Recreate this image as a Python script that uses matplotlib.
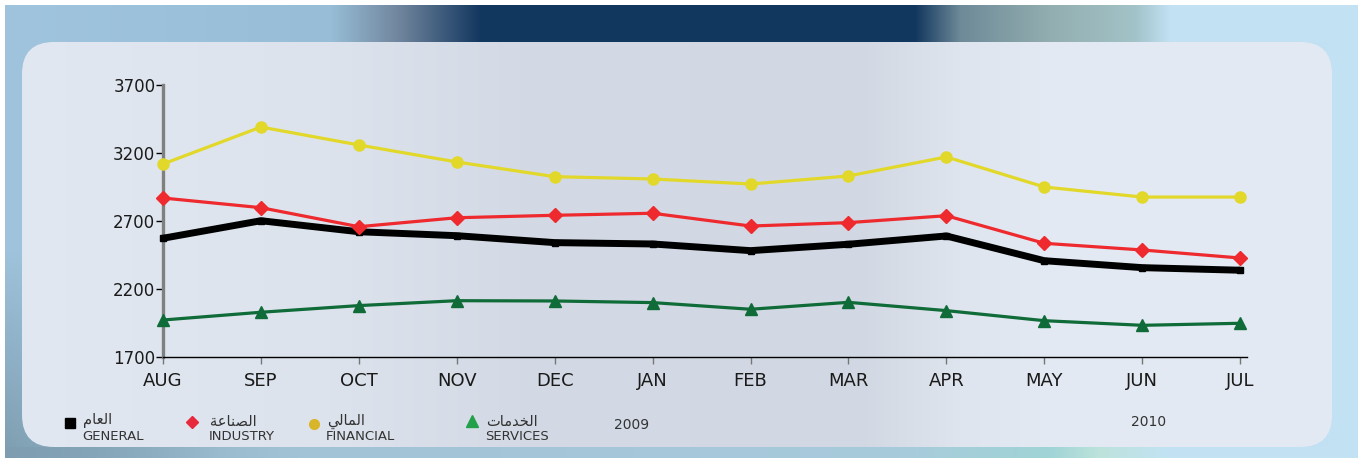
import matplotlib.pyplot as plt
import numpy as np
from matplotlib.colors import to_rgb
from matplotlib.patches import FancyBboxPatch

# monthly index values, Aug 2009 - Jul 2010
months = ["AUG", "SEP", "OCT", "NOV", "DEC", "JAN", "FEB", "MAR", "APR", "MAY", "JUN", "JUL"]
general = [2573, 2702, 2621, 2592, 2541, 2531, 2482, 2529, 2590, 2408, 2357, 2338]
industry = [2869, 2798, 2658, 2724, 2742, 2757, 2663, 2688, 2739, 2536, 2487, 2428]
financial = [3119, 3391, 3259, 3134, 3026, 3009, 2972, 3031, 3171, 2950, 2876, 2876]
services = [1972, 2029, 2078, 2114, 2112, 2100, 2051, 2102, 2041, 1967, 1933, 1948]
y_ticks = [1700, 2200, 2700, 3200, 3700]
years = ["2009", "2010"]

# Arabic labels, written in shaped presentation forms (visual order)
ar_general = "\ufee1\ufe8e\ufecc\ufedf\ufe8d"          # العام
ar_industry = "\ufe94\ufecb\ufe8e\ufee8\ufebc\ufedf\ufe8d"  # الصناعة
ar_financial = "\ufef2\ufedf\ufe8e\ufee4\ufedf\ufe8d"    # المالي
ar_services = "\ufe95\ufe8e\ufee3\ufeaa\ufea8\ufedf\ufe8d"  # الخدمات

W, H = 1366, 463


def hgrad(stops, width):
    """Horizontal colour gradient of shape (width, 3)."""
    xs = [s[0] for s in stops]
    cols = np.array([to_rgb(s[1]) for s in stops])
    x = np.arange(width)
    return np.stack([np.interp(x, xs, cols[:, i]) for i in range(3)], axis=-1)


fig = plt.figure(figsize=(W / 100, H / 100), dpi=100)
bg = fig.add_axes([0, 0, 1, 1])
bg.set_xlim(0, W)
bg.set_ylim(H, 0)
bg.axis("off")

# outer frame
img = np.ones((H, W, 3))
body = hgrad([(0, "#9fc3dc"), (500, "#a6cae1"), (1100, "#bcdcef"), (1366, "#c3e2f4")], W)
img[5:458, 5:1358] = body[5:1358]
top = hgrad([(0, "#a0c4dd"), (330, "#98bed7"), (400, "#6f849c"), (480, "#12375f"),
             (915, "#12375f"), (960, "#6e8a98"), (1050, "#93aeb0"), (1135, "#a2c3c8"),
             (1170, "#c2e2f4"), (1366, "#c2e2f4")], W)
img[5:42, 5:1358] = top[5:1358]
bottom = hgrad([(0, "#86a6ba"), (300, "#a2c2d6"), (900, "#a8cbdc"), (1050, "#a0d4d6"),
                (1100, "#bde3dc"), (1170, "#c2e2f4"), (1366, "#c2e2f4")], W)
img[447:458, 5:1358] = bottom[5:1358]
yy, xx = np.mgrid[0:H, 0:W]
wgt = np.clip((yy - 250) / 200, 0, 1) * np.clip((220 - xx) / 220, 0, 1)
dark = np.array(to_rgb("#7e9db0"))
mask = (yy >= 5) & (yy < 458) & (xx >= 5) & (xx < 1358)
img[mask] = img[mask] * (1 - wgt[mask][:, None]) + dark * wgt[mask][:, None]
bg.imshow(img, extent=(0, W, H, 0), aspect="auto", interpolation="bilinear")

# rounded inner panel
panel = FancyBboxPatch((22, 42), 1310, 405, boxstyle="round,pad=0,rounding_size=32",
                       fc="none", ec="none")
bg.add_patch(panel)
pg = hgrad([(0, "#e1e8f2"), (330, "#dce3ed"), (520, "#d3dae5"), (860, "#d1d8e3"),
            (960, "#dee5ee"), (1060, "#e3eaf3"), (1366, "#e2e9f2")], W)
pim = bg.imshow(np.repeat(pg[None, :, :], 2, axis=0), extent=(0, W, 447, 42),
                aspect="auto", interpolation="bilinear")
pim.set_clip_path(panel)

# main chart
ax = fig.add_axes([163 / W, 1 - 357 / H, (1247 - 163) / W, (357 - 85) / H])
ax.patch.set_alpha(0)
x = np.arange(len(months))

ax.plot(x, services, color="#0f6b38", lw=2.3, marker="^", ms=9, clip_on=False, zorder=3)
ax.plot(x, general, color="black", lw=5, marker="s", ms=4, solid_capstyle="butt",
        clip_on=False, zorder=4)
ax.plot(x, industry, color="#ee2a2e", lw=2.3, marker="D", ms=7, clip_on=False, zorder=5)
ax.plot(x, financial, color="#e2d82a", lw=2.3, marker="o", ms=8, clip_on=False, zorder=6)

ax.set_xlim(0, 11.07)
ax.set_ylim(1700, 3700)
ax.set_xticks(x)
ax.set_xticklabels(months, fontsize=13, color="#1a1a1a")
ax.set_yticks(y_ticks)
ax.set_yticklabels([str(v) for v in y_ticks], fontsize=12, color="#1a1a1a")
ax.tick_params(axis="x", direction="out", length=5, width=1, color="#777777", pad=6)
ax.tick_params(axis="y", direction="out", length=5, width=1, color="black", pad=0.5)
for s in ["top", "right"]:
    ax.spines[s].set_visible(False)
ax.spines["left"].set_color("#808080")
ax.spines["left"].set_linewidth(2.4)
ax.spines["left"].set_zorder(2)
ax.spines["bottom"].set_color("black")
ax.spines["bottom"].set_linewidth(1)

# legend, hand laid out like the original
keys = [
    (70, 423, "s", 7, "black", ar_general, "GENERAL", 83),
    (192, 422, "D", 6, "#e8283c", ar_industry, "INDUSTRY", 210),
    (314, 424, "o", 7, "#d9b52a", ar_financial, "FINANCIAL", 327),
    (472, 421, "^", 8, "#22a04a", ar_services, "SERVICES", 486),
]
for kx, ky, mk, ms, col, ar, en, tx in keys:
    bg.plot(kx, ky, marker=mk, ms=ms, color=col, ls="none")
    bg.text(tx, 421, ar, fontsize=10.5, color="#333333", va="center", ha="left")
    bg.text(tx - 1, 437, en, fontsize=9.5, color="#333333", va="center", ha="left")

bg.text(632, 425, years[0], fontsize=10, color="#333333", va="center", ha="center")
bg.text(1149, 422, years[1], fontsize=10, color="#333333", va="center", ha="center")

fig.savefig("out.png", dpi=100)
plt.close(fig)
